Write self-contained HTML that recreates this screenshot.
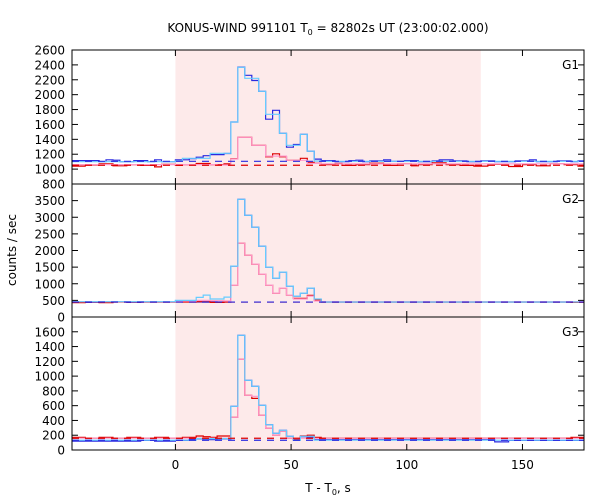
<!DOCTYPE html>
<html><head><meta charset="utf-8">
<style>
html,body{margin:0;padding:0;background:#fff;}
svg{display:block;font-family:"DejaVu Sans","Liberation Sans",sans-serif;}
</style></head>
<body>
<svg id="chart" width="600" height="500" xmlns="http://www.w3.org/2000/svg">
<text x="328" y="32" text-anchor="middle" font-size="12">KONUS-WIND 991101 T<tspan font-size="8" dy="3">0</tspan><tspan dy="-3"> = 82802s UT (23:00:02.000)</tspan></text>
<text transform="translate(16,250) rotate(-90)" text-anchor="middle" font-size="12">counts / sec</text>
<text x="328" y="492" text-anchor="middle" font-size="12">T - T<tspan font-size="8" dy="3">0</tspan><tspan dy="-3">, s</tspan></text>
<g id="plots"></g>
</svg>
<script>
const binStart = -45;
const binWidth = 3;
const xTicks = [0, 50, 100, 150];
const shadeRange = [0, 132];

const g1Blue = [1115,1115,1115,1115,1100,1125,1120,1100,1100,1115,1115,1100,1125,1100,1100,
 1125,1125,1140,1160,1180,1195,1195,1210,
 1633,2370,2260,2190,2045,1670,1790,1481,1295,1330,1468,1240,1135,
 1115,1115,1100,1100,1115,1120,1100,1110,1110,1125,1105,1105,1115,1115,1100,1100,1110,1125,1125,1110,1110,1100,1100,1110,1110,1100,1100,1100,1110,1110,1125,1100,1100,1100,1110,1110,1100,1110];
const g1Red = [1040,1040,1055,1055,1070,1070,1045,1045,1060,1060,1050,1050,1030,1065,1065,
 1050,1060,1060,1075,1075,1060,1060,1070,
 1140,1427,1427,1320,1320,1165,1205,1165,1118,1118,1145,1090,1080,
 1060,1060,1075,1050,1050,1060,1060,1080,1080,1050,1050,1070,1070,1045,1060,1060,1085,1085,1060,1060,1050,1050,1040,1040,1065,1065,1060,1035,1035,1060,1060,1045,1045,1070,1070,1060,1060,1040];
const g1Pink = [1060,1060,1060,1060,1060,1060,1060,1060,1060,1060,1060,1060,1060,1060,1060,
 1060,1060,1060,1060,1060,1060,1055,1055,
 1136,1427,1427,1320,1320,1175,1175,1175,1118,1118,1118,1077,1077,
 1070,1070,1070,1070,1070,1070,1070,1070,1070,1070,1070,1070,1070,1070,1070,1070,1070,1070,1070,1070,1070,1070,1070,1070,1070,1070,1070,1070,1070,1070,1070,1070,1070,1070,1070,1070,1070,1070];
const g1Cyan = [1100,1100,1100,1100,1100,1100,1100,1100,1100,1100,1100,1100,1100,1100,1100,
 1109,1145,1145,1145,1145,1212,1212,1212,
 1633,2367,2220,2220,2045,1736,1736,1481,1320,1320,1468,1240,1109,
 1105,1105,1105,1105,1105,1105,1105,1105,1105,1105,1105,1105,1105,1105,1105,1105,1105,1105,1105,1105,1105,1105,1105,1105,1105,1105,1105,1105,1105,1105,1105,1105,1105,1105,1105,1105,1105,1105];
const g1BgRed = 1052, g1BgBlue = 1105;

const g2Blue = [440,440,440,440,450,450,460,460,440,440,450,450,450,450,450,
 470,460,460,450,450,460,450,450,
 1530,3540,3060,2700,2130,1500,1170,1350,930,630,720,870,520,
 450,450,450,450,450,450,450,450,450,450,450,450,450,450,450,450,450,450,450,450,450,450,450,450,450,450,450,450,450,450,450,450,450,450,450,450,450,450];
const g2Red = [430,430,450,450,430,430,450,450,450,450,450,450,450,450,450,
 460,450,450,460,460,440,440,450,
 960,2220,1860,1590,1290,960,720,870,660,560,560,650,510,
 450,450,450,450,450,450,450,450,450,450,450,450,450,450,450,450,450,450,450,450,450,450,450,450,450,450,450,450,450,450,450,450,450,450,450,450,440,440];
const g2Pink = [460,460,460,460,460,460,460,460,460,460,460,460,460,460,460,
 470,480,480,500,500,490,490,480,
 960,2220,1860,1590,1290,960,720,870,660,540,540,630,480,
 460,460,460,460,460,460,460,460,460,460,460,460,460,460,460,460,460,460,460,460,460,460,460,460,460,460,460,460,460,460,460,460,460,460,460,460,460,460];
const g2Cyan = [460,460,460,460,460,460,460,460,460,460,460,460,460,460,460,
 500,500,500,589,660,540,540,600,
 1530,3540,3060,2700,2130,1500,1170,1350,930,630,720,870,540,
 450,450,450,450,450,450,450,450,450,450,450,450,450,450,450,450,450,450,450,450,450,450,450,450,450,450,450,450,450,450,450,450,450,450,450,450,450,450];
const g2BgRed = 450, g2BgBlue = 450;

const g3Blue = [120,120,120,120,120,120,120,120,120,120,130,130,120,120,120,
 130,130,150,150,140,140,150,150,
 592,1552,943,862,605,343,226,267,186,132,180,175,140,
 140,140,140,140,140,140,140,140,140,140,140,140,140,140,140,140,140,140,140,140,140,140,140,140,140,110,110,130,130,130,130,130,130,130,130,130,130,130];
const g3Red = [170,170,160,160,170,170,160,160,170,170,160,160,170,170,160,
 160,170,170,190,180,170,190,190,
 443,1228,740,698,470,294,200,254,159,140,190,200,170,
 160,160,160,160,160,160,160,160,160,160,160,160,160,160,160,160,160,160,160,160,160,160,160,160,160,160,160,160,160,160,160,160,160,160,160,160,170,170];
const g3Pink = [160,160,160,160,160,160,160,160,160,160,160,160,160,160,160,
 160,160,160,160,160,160,160,160,
 443,1228,740,726,470,294,200,254,159,159,159,159,159,
 159,159,159,159,159,159,159,159,159,159,159,159,159,159,159,159,159,159,159,159,159,159,159,159,159,159,159,159,159,159,159,159,159,159,159,159,159,159];
const g3Cyan = [132,132,132,132,132,132,132,132,132,132,132,132,132,132,132,
 132,132,132,154,154,154,154,154,
 592,1552,943,862,605,343,226,267,186,132,186,186,132,
 132,132,132,132,132,132,132,132,132,132,132,132,132,132,132,132,132,132,132,132,132,132,132,132,132,132,132,132,132,132,132,132,132,132,132,132,132,132];
const g3BgRed = 159, g3BgBlue = 132;

const g1Ticks = [800,1000,1200,1400,1600,1800,2000,2200,2400,2600];
const g2Ticks = [0,500,1000,1500,2000,2500,3000,3500];
const g3Ticks = [0,200,400,600,800,1000,1200,1400,1600];

const NS = "http://www.w3.org/2000/svg";
const X0 = 72, X1 = 584, T0 = -44.7, T1 = 176.6;
function xs(t){ return X0 + (t - T0) / (T1 - T0) * (X1 - X0); }
function mk(tag, attrs, parent){ const e = document.createElementNS(NS, tag); for (const k in attrs) e.setAttribute(k, attrs[k]); parent.appendChild(e); return e; }

const root = document.getElementById('plots');
const panels = [
  {name:'g1', label:'G1', top:50, bot:184, min:800, max:2600, ticks:g1Ticks, blue:g1Blue, red:g1Red, pink:g1Pink, cyan:g1Cyan, bgR:g1BgRed, bgB:g1BgBlue},
  {name:'g2', label:'G2', top:184, bot:317, min:0, max:4000, ticks:g2Ticks, blue:g2Blue, red:g2Red, pink:g2Pink, cyan:g2Cyan, bgR:g2BgRed, bgB:g2BgBlue},
  {name:'g3', label:'G3', top:317, bot:450, min:0, max:1800, ticks:g3Ticks, blue:g3Blue, red:g3Red, pink:g3Pink, cyan:g3Cyan, bgR:g3BgRed, bgB:g3BgBlue}
];

panels.forEach(p => {
  const g = mk('g', {}, root);
  
  
  const ys = v => p.bot - (v - p.min) / (p.max - p.min) * (p.bot - p.top);
  const clip = mk('clipPath', {id:'clip-' + p.name}, g);
  mk('rect', {x:X0, y:p.top, width:X1 - X0, height:p.bot - p.top}, clip);
  const sh = mk('rect', {x:xs(shadeRange[0]), y:p.top, width:xs(shadeRange[1]) - xs(shadeRange[0]), height:p.bot - p.top, fill:'#fdeaea'}, g);
  
  
  const lines = mk('g', {'clip-path':'url(#clip-' + p.name + ')'}, g);
  function hist(arr, color, nm){
    let d = '';
    arr.forEach((v, i) => {
      const a = xs(binStart + i * binWidth), b = xs(binStart + (i + 1) * binWidth), y = ys(v);
      d += (i === 0 ? 'M' : 'L') + a.toFixed(1) + ',' + y.toFixed(1) + 'L' + b.toFixed(1) + ',' + y.toFixed(1);
    });
    const e = mk('path', {d:d, fill:'none', stroke:color, 'stroke-width':1.2}, lines);
    
    
  }
  function dash(v, color, nm){
    const e = mk('line', {x1:X0, x2:X1, y1:ys(v), y2:ys(v), stroke:color, 'stroke-width':1.2, 'stroke-dasharray':'7,6'}, lines);
    
    
  }
  hist(p.blue, '#2a2ae0', 'blue-series');
  hist(p.red, '#dd0000', 'red-series');
  hist(p.pink, '#ff99cc', 'pink-series');
  hist(p.cyan, '#66ccff', 'cyan-series');
  dash(p.bgR, '#dd0000', 'red-background');
  dash(p.bgB, '#2a2ae0', 'blue-background');
  const fr = mk('rect', {x:X0, y:p.top, width:X1 - X0, height:p.bot - p.top, fill:'none', stroke:'#000', 'stroke-width':1}, g);
  
  
  p.ticks.forEach(v => {
    const y = ys(v);
    mk('line', {x1:X0, x2:X0 + 6, y1:y, y2:y, stroke:'#000'}, g);
    mk('line', {x1:X1, x2:X1 - 6, y1:y, y2:y, stroke:'#000'}, g);
    const t = mk('text', {x:X0 - 7, y:y + 4.5, 'text-anchor':'end', 'font-size':12}, g);
    t.textContent = v;
    
    
  });
  xTicks.forEach(v => {
    const x = xs(v);
    mk('line', {x1:x, x2:x, y1:p.bot, y2:p.bot - 6, stroke:'#000'}, g);
    mk('line', {x1:x, x2:x, y1:p.top, y2:p.top + 6, stroke:'#000'}, g);
  });
  const lb = mk('text', {x:X1 - 5, y:p.top + 19, 'text-anchor':'end', 'font-size':12}, g);
  lb.textContent = p.label;
  
  
});
xTicks.forEach(v => {
  const t = mk('text', {x:xs(v), y:469, 'text-anchor':'middle', 'font-size':12}, root);
  t.textContent = v;
  
  
});
</script>
</body></html>
